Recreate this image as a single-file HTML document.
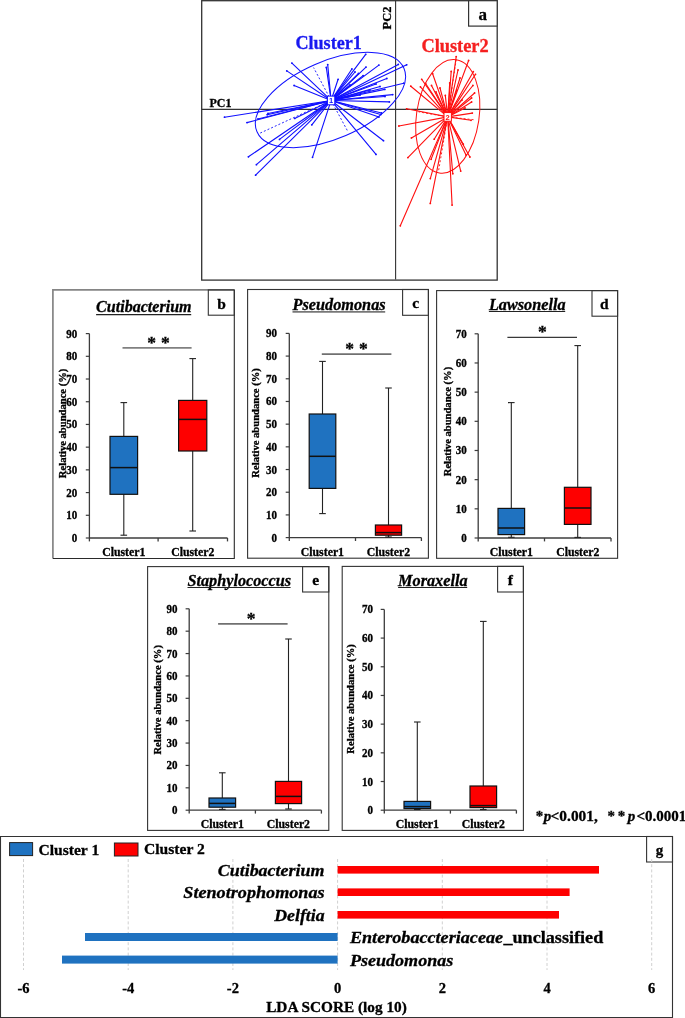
<!DOCTYPE html>
<html><head><meta charset="utf-8"><style>
html,body{margin:0;padding:0;background:#fff;width:685px;height:1018px;overflow:hidden}
svg{display:block;will-change:transform}
</style></head><body>
<svg width="685" height="1018" viewBox="0 0 685 1018">
<rect width="685" height="1018" fill="#fff"/>
<line x1="201.6" y1="109.4" x2="497.2" y2="109.4" stroke="#333" stroke-width="1.1"/>
<line x1="395.6" y1="0.5" x2="395.6" y2="279.6" stroke="#333" stroke-width="1.1"/>
<g stroke="#1010ff" stroke-width="1.12" fill="none" stroke-linecap="round">
<line x1="331.1" y1="100.45" x2="291.9" y2="63.1"/>
<line x1="331.1" y1="100.45" x2="286.8" y2="70.9"/>
<line x1="331.1" y1="100.45" x2="294.1" y2="85.5"/>
<line x1="331.1" y1="100.45" x2="327.7" y2="64.6"/>
<line x1="331.1" y1="100.45" x2="326.3" y2="67.4"/>
<line x1="331.1" y1="100.45" x2="365.7" y2="54.3"/>
<line x1="331.1" y1="100.45" x2="378.9" y2="65.1"/>
<line x1="331.1" y1="100.45" x2="366" y2="67.1"/>
<line x1="331.1" y1="100.45" x2="398.3" y2="64.4"/>
<line x1="331.1" y1="100.45" x2="406.7" y2="64.8"/>
<line x1="331.1" y1="100.45" x2="386.8" y2="78.5"/>
<line x1="331.1" y1="100.45" x2="403.8" y2="83.2"/>
<line x1="331.1" y1="100.45" x2="384.8" y2="89.4"/>
<line x1="331.1" y1="100.45" x2="392.7" y2="94.6"/>
<line x1="331.1" y1="100.45" x2="389.4" y2="101.9"/>
<line x1="331.1" y1="100.45" x2="351.9" y2="69"/>
<line x1="331.1" y1="100.45" x2="338.1" y2="79.3"/>
<line x1="331.1" y1="100.45" x2="363.1" y2="75.6"/>
<line x1="331.1" y1="100.45" x2="355" y2="72"/>
<line x1="331.1" y1="100.45" x2="358.5" y2="73.5"/>
<line x1="331.1" y1="100.45" x2="376" y2="84"/>
<line x1="331.1" y1="100.45" x2="380" y2="86.5"/>
<line x1="331.1" y1="100.45" x2="370" y2="90"/>
<line x1="331.1" y1="100.45" x2="385" y2="96.5"/>
<line x1="331.1" y1="100.45" x2="360" y2="95"/>
<line x1="331.1" y1="100.45" x2="350" y2="85"/>
<line x1="331.1" y1="100.45" x2="381.5" y2="113"/>
<line x1="331.1" y1="100.45" x2="378.9" y2="117"/>
<line x1="331.1" y1="100.45" x2="383.5" y2="140.7"/>
<line x1="331.1" y1="100.45" x2="376" y2="154.4"/>
<line x1="331.1" y1="100.45" x2="380.8" y2="114.5"/>
<line x1="331.1" y1="100.45" x2="224.5" y2="117.2"/>
<line x1="331.1" y1="100.45" x2="247" y2="122.6"/>
<line x1="331.1" y1="100.45" x2="267.2" y2="114.7"/>
<line x1="331.1" y1="100.45" x2="248.4" y2="156.8"/>
<line x1="331.1" y1="100.45" x2="256.4" y2="164.7"/>
<line x1="331.1" y1="100.45" x2="255.6" y2="175.2"/>
<line x1="331.1" y1="100.45" x2="279.5" y2="139.4"/>
<line x1="331.1" y1="100.45" x2="312.5" y2="157.3"/>
<line x1="331.1" y1="100.45" x2="311.8" y2="124.8"/>
<line x1="331.1" y1="100.45" x2="294.7" y2="118.4"/>
<line x1="331.1" y1="100.45" x2="268" y2="113.5"/>
<line x1="331.1" y1="100.45" x2="258" y2="119"/>
</g>
<g fill="#1010ff"><circle cx="291.9" cy="63.1" r="0.9"/><circle cx="286.8" cy="70.9" r="0.9"/><circle cx="294.1" cy="85.5" r="0.9"/><circle cx="327.7" cy="64.6" r="0.9"/><circle cx="326.3" cy="67.4" r="0.9"/><circle cx="365.7" cy="54.3" r="0.9"/><circle cx="378.9" cy="65.1" r="0.9"/><circle cx="366" cy="67.1" r="0.9"/><circle cx="398.3" cy="64.4" r="0.9"/><circle cx="406.7" cy="64.8" r="0.9"/><circle cx="386.8" cy="78.5" r="0.9"/><circle cx="403.8" cy="83.2" r="0.9"/><circle cx="384.8" cy="89.4" r="0.9"/><circle cx="392.7" cy="94.6" r="0.9"/><circle cx="389.4" cy="101.9" r="0.9"/><circle cx="351.9" cy="69" r="0.9"/><circle cx="338.1" cy="79.3" r="0.9"/><circle cx="363.1" cy="75.6" r="0.9"/><circle cx="355" cy="72" r="0.9"/><circle cx="358.5" cy="73.5" r="0.9"/><circle cx="376" cy="84" r="0.9"/><circle cx="380" cy="86.5" r="0.9"/><circle cx="370" cy="90" r="0.9"/><circle cx="385" cy="96.5" r="0.9"/><circle cx="360" cy="95" r="0.9"/><circle cx="350" cy="85" r="0.9"/><circle cx="381.5" cy="113" r="0.9"/><circle cx="378.9" cy="117" r="0.9"/><circle cx="383.5" cy="140.7" r="0.9"/><circle cx="376" cy="154.4" r="0.9"/><circle cx="380.8" cy="114.5" r="0.9"/><circle cx="224.5" cy="117.2" r="0.9"/><circle cx="247" cy="122.6" r="0.9"/><circle cx="267.2" cy="114.7" r="0.9"/><circle cx="248.4" cy="156.8" r="0.9"/><circle cx="256.4" cy="164.7" r="0.9"/><circle cx="255.6" cy="175.2" r="0.9"/><circle cx="279.5" cy="139.4" r="0.9"/><circle cx="312.5" cy="157.3" r="0.9"/><circle cx="311.8" cy="124.8" r="0.9"/><circle cx="294.7" cy="118.4" r="0.9"/><circle cx="268" cy="113.5" r="0.9"/><circle cx="258" cy="119" r="0.9"/></g>
<g stroke="#1010ff" stroke-width="0.9" fill="none" stroke-dasharray="2,2">
<line x1="331.1" y1="100.45" x2="313.6" y2="67.6"/>
<line x1="331.1" y1="100.45" x2="348" y2="131.8"/>
<line x1="331.1" y1="100.45" x2="259.7" y2="133.3"/>
</g>
<ellipse cx="330.47" cy="100.03" rx="80.04" ry="38.69" transform="rotate(-23.39 330.47 100.03)" fill="none" stroke="#1010ff" stroke-width="1"/>
<g stroke="#ff1010" stroke-width="1.12" fill="none" stroke-linecap="round">
<line x1="447.7" y1="116.9" x2="456.2" y2="56.6"/>
<line x1="447.7" y1="116.9" x2="468.6" y2="60.5"/>
<line x1="447.7" y1="116.9" x2="473.3" y2="71.7"/>
<line x1="447.7" y1="116.9" x2="475.5" y2="74.3"/>
<line x1="447.7" y1="116.9" x2="472.9" y2="85.5"/>
<line x1="447.7" y1="116.9" x2="474.6" y2="93"/>
<line x1="447.7" y1="116.9" x2="471.6" y2="98"/>
<line x1="447.7" y1="116.9" x2="471.6" y2="102"/>
<line x1="447.7" y1="116.9" x2="472.3" y2="113.1"/>
<line x1="447.7" y1="116.9" x2="451.2" y2="71.4"/>
<line x1="447.7" y1="116.9" x2="449.7" y2="82.9"/>
<line x1="447.7" y1="116.9" x2="456.8" y2="90.1"/>
<line x1="447.7" y1="116.9" x2="445.3" y2="95.4"/>
<line x1="447.7" y1="116.9" x2="432.6" y2="73.7"/>
<line x1="447.7" y1="116.9" x2="431.5" y2="85.5"/>
<line x1="447.7" y1="116.9" x2="425.6" y2="83.5"/>
<line x1="447.7" y1="116.9" x2="421.7" y2="79.3"/>
<line x1="447.7" y1="116.9" x2="420.4" y2="86.8"/>
<line x1="447.7" y1="116.9" x2="410.8" y2="86.2"/>
<line x1="447.7" y1="116.9" x2="406.6" y2="108.8"/>
<line x1="447.7" y1="116.9" x2="471" y2="120.3"/>
<line x1="447.7" y1="116.9" x2="465" y2="108"/>
<line x1="447.7" y1="116.9" x2="462" y2="100"/>
<line x1="447.7" y1="116.9" x2="460" y2="78"/>
<line x1="447.7" y1="116.9" x2="458" y2="70"/>
<line x1="447.7" y1="116.9" x2="440" y2="88"/>
<line x1="447.7" y1="116.9" x2="436" y2="92"/>
<line x1="447.7" y1="116.9" x2="398.9" y2="126"/>
<line x1="447.7" y1="116.9" x2="411.4" y2="137.9"/>
<line x1="447.7" y1="116.9" x2="407.9" y2="157.6"/>
<line x1="447.7" y1="116.9" x2="434.2" y2="139.2"/>
<line x1="447.7" y1="116.9" x2="431.1" y2="159.3"/>
<line x1="447.7" y1="116.9" x2="469.9" y2="157"/>
<line x1="447.7" y1="116.9" x2="460.7" y2="171.1"/>
<line x1="447.7" y1="116.9" x2="452.8" y2="173.7"/>
<line x1="447.7" y1="116.9" x2="400.3" y2="225.8"/>
<line x1="447.7" y1="116.9" x2="430.3" y2="203.4"/>
<line x1="447.7" y1="116.9" x2="452.1" y2="205.1"/>
<line x1="447.7" y1="116.9" x2="430.3" y2="178.6"/>
<line x1="447.7" y1="116.9" x2="463.3" y2="144.2"/>
<line x1="447.7" y1="116.9" x2="466" y2="155"/>
</g>
<g fill="#ff1010"><circle cx="456.2" cy="56.6" r="0.9"/><circle cx="468.6" cy="60.5" r="0.9"/><circle cx="473.3" cy="71.7" r="0.9"/><circle cx="475.5" cy="74.3" r="0.9"/><circle cx="472.9" cy="85.5" r="0.9"/><circle cx="474.6" cy="93" r="0.9"/><circle cx="471.6" cy="98" r="0.9"/><circle cx="471.6" cy="102" r="0.9"/><circle cx="472.3" cy="113.1" r="0.9"/><circle cx="451.2" cy="71.4" r="0.9"/><circle cx="449.7" cy="82.9" r="0.9"/><circle cx="456.8" cy="90.1" r="0.9"/><circle cx="445.3" cy="95.4" r="0.9"/><circle cx="432.6" cy="73.7" r="0.9"/><circle cx="431.5" cy="85.5" r="0.9"/><circle cx="425.6" cy="83.5" r="0.9"/><circle cx="421.7" cy="79.3" r="0.9"/><circle cx="420.4" cy="86.8" r="0.9"/><circle cx="410.8" cy="86.2" r="0.9"/><circle cx="406.6" cy="108.8" r="0.9"/><circle cx="471" cy="120.3" r="0.9"/><circle cx="465" cy="108" r="0.9"/><circle cx="462" cy="100" r="0.9"/><circle cx="460" cy="78" r="0.9"/><circle cx="458" cy="70" r="0.9"/><circle cx="440" cy="88" r="0.9"/><circle cx="436" cy="92" r="0.9"/><circle cx="398.9" cy="126" r="0.9"/><circle cx="411.4" cy="137.9" r="0.9"/><circle cx="407.9" cy="157.6" r="0.9"/><circle cx="434.2" cy="139.2" r="0.9"/><circle cx="431.1" cy="159.3" r="0.9"/><circle cx="469.9" cy="157" r="0.9"/><circle cx="460.7" cy="171.1" r="0.9"/><circle cx="452.8" cy="173.7" r="0.9"/><circle cx="400.3" cy="225.8" r="0.9"/><circle cx="430.3" cy="203.4" r="0.9"/><circle cx="452.1" cy="205.1" r="0.9"/><circle cx="430.3" cy="178.6" r="0.9"/><circle cx="463.3" cy="144.2" r="0.9"/><circle cx="466" cy="155" r="0.9"/></g>
<g stroke="#ff1010" stroke-width="0.9" fill="none" stroke-dasharray="2,2">
<line x1="447.7" y1="116.9" x2="456.5" y2="57.5"/>
<line x1="447.7" y1="116.9" x2="438.4" y2="171.8"/>
<line x1="447.7" y1="116.9" x2="418.5" y2="111.8"/>
<line x1="447.7" y1="116.9" x2="474.5" y2="119.8"/>
</g>
<ellipse cx="447.76" cy="116.34" rx="57.2" ry="31.3" transform="rotate(98.42 447.76 116.34)" fill="none" stroke="#ff1010" stroke-width="1"/>
<rect x="327.40" y="96.10" width="7.4" height="8.7" fill="#fff" stroke="#1010ff" stroke-width="1"/>
<text x="331.10" y="103.15" text-anchor="middle" style="font-family:'Liberation Sans',sans-serif;font-weight:bold;font-size:7.5px;fill:#1010ff">1</text>
<rect x="444.00" y="112.55" width="7.4" height="8.7" fill="#fff" stroke="#ff1010" stroke-width="1"/>
<text x="447.70" y="119.60" text-anchor="middle" style="font-family:'Liberation Sans',sans-serif;font-weight:bold;font-size:7.5px;fill:#ff1010">2</text>
<rect x="201.7" y="0.7" width="295.5" height="279.4" fill="none" stroke="#333" stroke-width="1.3"/>
<rect x="468.6" y="0.7" width="28.6" height="25.4" fill="#fff" stroke="#333" stroke-width="1.2"/>
<text x="482.8" y="19.8" text-anchor="middle" style="font-family:'Liberation Serif',serif;font-weight:bold;stroke:#000;stroke-width:0.3px;font-size:17px">a</text>
<text x="209.4" y="106.5" textLength="22" lengthAdjust="spacingAndGlyphs" style="font-family:'Liberation Serif',serif;font-weight:bold;stroke:#000;stroke-width:0.3px;font-size:12.5px">PC1</text>
<text transform="translate(391.2,18) rotate(-90)" text-anchor="middle" style="font-family:'Liberation Serif',serif;font-weight:bold;stroke:#000;stroke-width:0.3px;font-size:12.5px">PC2</text>
<text x="295.4" y="48.7" textLength="66.5" lengthAdjust="spacingAndGlyphs" style="font-family:'Liberation Serif',serif;font-weight:bold;stroke:#000;stroke-width:0.3px;font-size:18px;fill:#1818F0;stroke:#1818F0">Cluster1</text>
<text x="421.4" y="52.4" textLength="67.2" lengthAdjust="spacingAndGlyphs" style="font-family:'Liberation Serif',serif;font-weight:bold;stroke:#000;stroke-width:0.3px;font-size:18px;fill:#F52020;stroke:#F52020">Cluster2</text>
<path d="M52.9,558.5 V289.9 H234.3" fill="none" stroke="#858585" stroke-width="1.7"/>
<path d="M52.9,558.5 H234.3 V289.9" fill="none" stroke="#2a2a2a" stroke-width="1.1"/>
<rect x="208.3" y="289.9" width="26" height="25.3" fill="none" stroke="#333333" stroke-width="1.1"/>
<text x="221.5" y="308.5" text-anchor="middle" style="font-family:'Liberation Serif',serif;font-weight:bold;stroke:#000;stroke-width:0.3px;font-size:15.5px">b</text>
<text x="96.1" y="312.4" textLength="95.5" lengthAdjust="spacingAndGlyphs" style="font-family:'Liberation Serif',serif;font-weight:bold;stroke:#000;stroke-width:0.3px;font-style:italic;font-size:16px">Cutibacterium</text>
<line x1="96.1" y1="314.6" x2="191.2" y2="314.6" stroke="#222" stroke-width="1.1"/>
<line x1="89.4" y1="333.6" x2="89.4" y2="541.4" stroke="#3c3c3c" stroke-width="1.3"/>
<line x1="89.4" y1="538" x2="227.5" y2="538" stroke="#3c3c3c" stroke-width="1.3"/>
<line x1="158.1" y1="538" x2="158.1" y2="541.4" stroke="#3c3c3c" stroke-width="1.3"/>
<line x1="227.5" y1="538" x2="227.5" y2="541.4" stroke="#3c3c3c" stroke-width="1.3"/>
<line x1="85.8" y1="538" x2="89.4" y2="538" stroke="#3c3c3c" stroke-width="1.2"/>
<text transform="translate(77.3,542) scale(1,1.1)" text-anchor="end" style="font-family:'Liberation Serif',serif;font-weight:bold;stroke:#000;stroke-width:0.3px;font-size:11px">0</text>
<line x1="85.8" y1="515.29" x2="89.4" y2="515.29" stroke="#3c3c3c" stroke-width="1.2"/>
<text transform="translate(77.3,519.29) scale(1,1.1)" text-anchor="end" style="font-family:'Liberation Serif',serif;font-weight:bold;stroke:#000;stroke-width:0.3px;font-size:11px">10</text>
<line x1="85.8" y1="492.58" x2="89.4" y2="492.58" stroke="#3c3c3c" stroke-width="1.2"/>
<text transform="translate(77.3,496.58) scale(1,1.1)" text-anchor="end" style="font-family:'Liberation Serif',serif;font-weight:bold;stroke:#000;stroke-width:0.3px;font-size:11px">20</text>
<line x1="85.8" y1="469.87" x2="89.4" y2="469.87" stroke="#3c3c3c" stroke-width="1.2"/>
<text transform="translate(77.3,473.87) scale(1,1.1)" text-anchor="end" style="font-family:'Liberation Serif',serif;font-weight:bold;stroke:#000;stroke-width:0.3px;font-size:11px">30</text>
<line x1="85.8" y1="447.16" x2="89.4" y2="447.16" stroke="#3c3c3c" stroke-width="1.2"/>
<text transform="translate(77.3,451.16) scale(1,1.1)" text-anchor="end" style="font-family:'Liberation Serif',serif;font-weight:bold;stroke:#000;stroke-width:0.3px;font-size:11px">40</text>
<line x1="85.8" y1="424.44" x2="89.4" y2="424.44" stroke="#3c3c3c" stroke-width="1.2"/>
<text transform="translate(77.3,428.44) scale(1,1.1)" text-anchor="end" style="font-family:'Liberation Serif',serif;font-weight:bold;stroke:#000;stroke-width:0.3px;font-size:11px">50</text>
<line x1="85.8" y1="401.73" x2="89.4" y2="401.73" stroke="#3c3c3c" stroke-width="1.2"/>
<text transform="translate(77.3,405.73) scale(1,1.1)" text-anchor="end" style="font-family:'Liberation Serif',serif;font-weight:bold;stroke:#000;stroke-width:0.3px;font-size:11px">60</text>
<line x1="85.8" y1="379.02" x2="89.4" y2="379.02" stroke="#3c3c3c" stroke-width="1.2"/>
<text transform="translate(77.3,383.02) scale(1,1.1)" text-anchor="end" style="font-family:'Liberation Serif',serif;font-weight:bold;stroke:#000;stroke-width:0.3px;font-size:11px">70</text>
<line x1="85.8" y1="356.31" x2="89.4" y2="356.31" stroke="#3c3c3c" stroke-width="1.2"/>
<text transform="translate(77.3,360.31) scale(1,1.1)" text-anchor="end" style="font-family:'Liberation Serif',serif;font-weight:bold;stroke:#000;stroke-width:0.3px;font-size:11px">80</text>
<line x1="85.8" y1="333.6" x2="89.4" y2="333.6" stroke="#3c3c3c" stroke-width="1.2"/>
<text transform="translate(77.3,337.6) scale(1,1.1)" text-anchor="end" style="font-family:'Liberation Serif',serif;font-weight:bold;stroke:#000;stroke-width:0.3px;font-size:11px">90</text>
<text transform="translate(66.3,423.4) rotate(-90)" x="0" y="0" text-anchor="middle" style="font-family:'Liberation Serif',serif;font-weight:bold;stroke:#000;stroke-width:0.3px;font-size:10.6px">Relative abundance (%)</text>
<text x="123.75" y="555.7" text-anchor="middle" style="font-family:'Liberation Serif',serif;font-weight:bold;stroke:#000;stroke-width:0.3px;font-size:11.8px">Cluster1</text>
<text x="192.8" y="555.7" text-anchor="middle" style="font-family:'Liberation Serif',serif;font-weight:bold;stroke:#000;stroke-width:0.3px;font-size:11.8px">Cluster2</text>
<line x1="123.8" y1="402.6" x2="123.8" y2="535.2" stroke="#222" stroke-width="1.1"/>
<line x1="120.5" y1="402.6" x2="127.1" y2="402.6" stroke="#222" stroke-width="1.1"/>
<line x1="120.5" y1="535.2" x2="127.1" y2="535.2" stroke="#222" stroke-width="1.1"/>
<rect x="110" y="436.4" width="27.6" height="57.9" fill="#1F72C0" stroke="#111" stroke-width="1.2"/>
<line x1="110" y1="467.6" x2="137.6" y2="467.6" stroke="#111" stroke-width="1.5"/>
<line x1="192.7" y1="358.6" x2="192.7" y2="531" stroke="#222" stroke-width="1.1"/>
<line x1="189.4" y1="358.6" x2="196" y2="358.6" stroke="#222" stroke-width="1.1"/>
<line x1="189.4" y1="531" x2="196" y2="531" stroke="#222" stroke-width="1.1"/>
<rect x="178.6" y="400.4" width="28.2" height="50.6" fill="#FE0000" stroke="#111" stroke-width="1.2"/>
<line x1="178.6" y1="419.4" x2="206.8" y2="419.4" stroke="#111" stroke-width="1.5"/>
<line x1="122.5" y1="347.9" x2="191.6" y2="347.9" stroke="#808080" stroke-width="1.7"/>
<text x="151.6" y="347.9" text-anchor="middle" style="font-family:'Liberation Serif',serif;font-weight:bold;stroke:#000;stroke-width:0.3px;font-size:17.5px">*</text>
<text x="165.4" y="347.9" text-anchor="middle" style="font-family:'Liberation Serif',serif;font-weight:bold;stroke:#000;stroke-width:0.3px;font-size:17.5px">*</text>
<rect x="247.6" y="289.5" width="180.8" height="268.7" fill="none" stroke="#333333" stroke-width="1.1"/>
<rect x="402.6" y="289.5" width="25.8" height="25.8" fill="none" stroke="#333333" stroke-width="1.1"/>
<text x="415.6" y="308.1" text-anchor="middle" style="font-family:'Liberation Serif',serif;font-weight:bold;stroke:#000;stroke-width:0.3px;font-size:15.5px">c</text>
<text x="292.5" y="310" textLength="93.1" lengthAdjust="spacingAndGlyphs" style="font-family:'Liberation Serif',serif;font-weight:bold;stroke:#000;stroke-width:0.3px;font-style:italic;font-size:16px">Pseudomonas</text>
<line x1="292.5" y1="311.9" x2="385.2" y2="311.9" stroke="#777" stroke-width="1.6"/>
<line x1="289.3" y1="333.4" x2="289.3" y2="541" stroke="#3c3c3c" stroke-width="1.3"/>
<line x1="289.3" y1="537.6" x2="421.4" y2="537.6" stroke="#3c3c3c" stroke-width="1.3"/>
<line x1="355.5" y1="537.6" x2="355.5" y2="541" stroke="#3c3c3c" stroke-width="1.3"/>
<line x1="421.4" y1="537.6" x2="421.4" y2="541" stroke="#3c3c3c" stroke-width="1.3"/>
<line x1="285.7" y1="537.6" x2="289.3" y2="537.6" stroke="#3c3c3c" stroke-width="1.2"/>
<text transform="translate(277,541.6) scale(1,1.1)" text-anchor="end" style="font-family:'Liberation Serif',serif;font-weight:bold;stroke:#000;stroke-width:0.3px;font-size:11px">0</text>
<line x1="285.7" y1="514.91" x2="289.3" y2="514.91" stroke="#3c3c3c" stroke-width="1.2"/>
<text transform="translate(277,518.91) scale(1,1.1)" text-anchor="end" style="font-family:'Liberation Serif',serif;font-weight:bold;stroke:#000;stroke-width:0.3px;font-size:11px">10</text>
<line x1="285.7" y1="492.22" x2="289.3" y2="492.22" stroke="#3c3c3c" stroke-width="1.2"/>
<text transform="translate(277,496.22) scale(1,1.1)" text-anchor="end" style="font-family:'Liberation Serif',serif;font-weight:bold;stroke:#000;stroke-width:0.3px;font-size:11px">20</text>
<line x1="285.7" y1="469.53" x2="289.3" y2="469.53" stroke="#3c3c3c" stroke-width="1.2"/>
<text transform="translate(277,473.53) scale(1,1.1)" text-anchor="end" style="font-family:'Liberation Serif',serif;font-weight:bold;stroke:#000;stroke-width:0.3px;font-size:11px">30</text>
<line x1="285.7" y1="446.84" x2="289.3" y2="446.84" stroke="#3c3c3c" stroke-width="1.2"/>
<text transform="translate(277,450.84) scale(1,1.1)" text-anchor="end" style="font-family:'Liberation Serif',serif;font-weight:bold;stroke:#000;stroke-width:0.3px;font-size:11px">40</text>
<line x1="285.7" y1="424.16" x2="289.3" y2="424.16" stroke="#3c3c3c" stroke-width="1.2"/>
<text transform="translate(277,428.16) scale(1,1.1)" text-anchor="end" style="font-family:'Liberation Serif',serif;font-weight:bold;stroke:#000;stroke-width:0.3px;font-size:11px">50</text>
<line x1="285.7" y1="401.47" x2="289.3" y2="401.47" stroke="#3c3c3c" stroke-width="1.2"/>
<text transform="translate(277,405.47) scale(1,1.1)" text-anchor="end" style="font-family:'Liberation Serif',serif;font-weight:bold;stroke:#000;stroke-width:0.3px;font-size:11px">60</text>
<line x1="285.7" y1="378.78" x2="289.3" y2="378.78" stroke="#3c3c3c" stroke-width="1.2"/>
<text transform="translate(277,382.78) scale(1,1.1)" text-anchor="end" style="font-family:'Liberation Serif',serif;font-weight:bold;stroke:#000;stroke-width:0.3px;font-size:11px">70</text>
<line x1="285.7" y1="356.09" x2="289.3" y2="356.09" stroke="#3c3c3c" stroke-width="1.2"/>
<text transform="translate(277,360.09) scale(1,1.1)" text-anchor="end" style="font-family:'Liberation Serif',serif;font-weight:bold;stroke:#000;stroke-width:0.3px;font-size:11px">80</text>
<line x1="285.7" y1="333.4" x2="289.3" y2="333.4" stroke="#3c3c3c" stroke-width="1.2"/>
<text transform="translate(277,337.4) scale(1,1.1)" text-anchor="end" style="font-family:'Liberation Serif',serif;font-weight:bold;stroke:#000;stroke-width:0.3px;font-size:11px">90</text>
<text transform="translate(259,422.9) rotate(-90)" x="0" y="0" text-anchor="middle" style="font-family:'Liberation Serif',serif;font-weight:bold;stroke:#000;stroke-width:0.3px;font-size:10.6px">Relative abundance (%)</text>
<text x="322.4" y="555.7" text-anchor="middle" style="font-family:'Liberation Serif',serif;font-weight:bold;stroke:#000;stroke-width:0.3px;font-size:11.8px">Cluster1</text>
<text x="388.45" y="555.7" text-anchor="middle" style="font-family:'Liberation Serif',serif;font-weight:bold;stroke:#000;stroke-width:0.3px;font-size:11.8px">Cluster2</text>
<line x1="322.5" y1="361.4" x2="322.5" y2="513.6" stroke="#222" stroke-width="1.1"/>
<line x1="319.2" y1="361.4" x2="325.8" y2="361.4" stroke="#222" stroke-width="1.1"/>
<line x1="319.2" y1="513.6" x2="325.8" y2="513.6" stroke="#222" stroke-width="1.1"/>
<rect x="309.2" y="414" width="26.6" height="74.4" fill="#1F72C0" stroke="#111" stroke-width="1.2"/>
<line x1="309.2" y1="456.3" x2="335.8" y2="456.3" stroke="#111" stroke-width="1.5"/>
<line x1="388.5" y1="388" x2="388.5" y2="537" stroke="#222" stroke-width="1.1"/>
<line x1="385.2" y1="388" x2="391.8" y2="388" stroke="#222" stroke-width="1.1"/>
<line x1="385.2" y1="537" x2="391.8" y2="537" stroke="#222" stroke-width="1.1"/>
<rect x="375.4" y="525" width="26.2" height="10.2" fill="#FE0000" stroke="#111" stroke-width="1.2"/>
<line x1="375.4" y1="532.6" x2="401.6" y2="532.6" stroke="#111" stroke-width="1.5"/>
<line x1="321.8" y1="354.1" x2="391.4" y2="354.1" stroke="#707070" stroke-width="1.6"/>
<text x="349.6" y="354.1" text-anchor="middle" style="font-family:'Liberation Serif',serif;font-weight:bold;stroke:#000;stroke-width:0.3px;font-size:17.5px">*</text>
<text x="363.4" y="354.1" text-anchor="middle" style="font-family:'Liberation Serif',serif;font-weight:bold;stroke:#000;stroke-width:0.3px;font-size:17.5px">*</text>
<rect x="436.6" y="290.6" width="181" height="267.7" fill="none" stroke="#333333" stroke-width="1.1"/>
<rect x="592" y="290.6" width="25.6" height="25.6" fill="none" stroke="#333333" stroke-width="1.1"/>
<text x="604.4" y="309.2" text-anchor="middle" style="font-family:'Liberation Serif',serif;font-weight:bold;stroke:#000;stroke-width:0.3px;font-size:15.5px">d</text>
<text x="488.9" y="310" textLength="76.7" lengthAdjust="spacingAndGlyphs" style="font-family:'Liberation Serif',serif;font-weight:bold;stroke:#000;stroke-width:0.3px;font-style:italic;font-size:16px">Lawsonella</text>
<line x1="488.9" y1="311.5" x2="565.2" y2="311.5" stroke="#222" stroke-width="1.1"/>
<line x1="478.2" y1="333.8" x2="478.2" y2="541.4" stroke="#3c3c3c" stroke-width="1.3"/>
<line x1="478.2" y1="538" x2="611" y2="538" stroke="#3c3c3c" stroke-width="1.3"/>
<line x1="544.5" y1="538" x2="544.5" y2="541.4" stroke="#3c3c3c" stroke-width="1.3"/>
<line x1="611" y1="538" x2="611" y2="541.4" stroke="#3c3c3c" stroke-width="1.3"/>
<line x1="474.6" y1="538" x2="478.2" y2="538" stroke="#3c3c3c" stroke-width="1.2"/>
<text transform="translate(466.7,542) scale(1,1.1)" text-anchor="end" style="font-family:'Liberation Serif',serif;font-weight:bold;stroke:#000;stroke-width:0.3px;font-size:11px">0</text>
<line x1="474.6" y1="508.83" x2="478.2" y2="508.83" stroke="#3c3c3c" stroke-width="1.2"/>
<text transform="translate(466.7,512.83) scale(1,1.1)" text-anchor="end" style="font-family:'Liberation Serif',serif;font-weight:bold;stroke:#000;stroke-width:0.3px;font-size:11px">10</text>
<line x1="474.6" y1="479.66" x2="478.2" y2="479.66" stroke="#3c3c3c" stroke-width="1.2"/>
<text transform="translate(466.7,483.66) scale(1,1.1)" text-anchor="end" style="font-family:'Liberation Serif',serif;font-weight:bold;stroke:#000;stroke-width:0.3px;font-size:11px">20</text>
<line x1="474.6" y1="450.49" x2="478.2" y2="450.49" stroke="#3c3c3c" stroke-width="1.2"/>
<text transform="translate(466.7,454.49) scale(1,1.1)" text-anchor="end" style="font-family:'Liberation Serif',serif;font-weight:bold;stroke:#000;stroke-width:0.3px;font-size:11px">30</text>
<line x1="474.6" y1="421.31" x2="478.2" y2="421.31" stroke="#3c3c3c" stroke-width="1.2"/>
<text transform="translate(466.7,425.31) scale(1,1.1)" text-anchor="end" style="font-family:'Liberation Serif',serif;font-weight:bold;stroke:#000;stroke-width:0.3px;font-size:11px">40</text>
<line x1="474.6" y1="392.14" x2="478.2" y2="392.14" stroke="#3c3c3c" stroke-width="1.2"/>
<text transform="translate(466.7,396.14) scale(1,1.1)" text-anchor="end" style="font-family:'Liberation Serif',serif;font-weight:bold;stroke:#000;stroke-width:0.3px;font-size:11px">50</text>
<line x1="474.6" y1="362.97" x2="478.2" y2="362.97" stroke="#3c3c3c" stroke-width="1.2"/>
<text transform="translate(466.7,366.97) scale(1,1.1)" text-anchor="end" style="font-family:'Liberation Serif',serif;font-weight:bold;stroke:#000;stroke-width:0.3px;font-size:11px">60</text>
<line x1="474.6" y1="333.8" x2="478.2" y2="333.8" stroke="#3c3c3c" stroke-width="1.2"/>
<text transform="translate(466.7,337.8) scale(1,1.1)" text-anchor="end" style="font-family:'Liberation Serif',serif;font-weight:bold;stroke:#000;stroke-width:0.3px;font-size:11px">70</text>
<text transform="translate(451.1,421.5) rotate(-90)" x="0" y="0" text-anchor="middle" style="font-family:'Liberation Serif',serif;font-weight:bold;stroke:#000;stroke-width:0.3px;font-size:10.6px">Relative abundance (%)</text>
<text x="511.35" y="555.7" text-anchor="middle" style="font-family:'Liberation Serif',serif;font-weight:bold;stroke:#000;stroke-width:0.3px;font-size:11.8px">Cluster1</text>
<text x="577.75" y="555.7" text-anchor="middle" style="font-family:'Liberation Serif',serif;font-weight:bold;stroke:#000;stroke-width:0.3px;font-size:11.8px">Cluster2</text>
<line x1="511.3" y1="402.6" x2="511.3" y2="537.3" stroke="#222" stroke-width="1.1"/>
<line x1="508" y1="402.6" x2="514.6" y2="402.6" stroke="#222" stroke-width="1.1"/>
<line x1="508" y1="537.3" x2="514.6" y2="537.3" stroke="#222" stroke-width="1.1"/>
<rect x="498" y="508.4" width="26.6" height="26.2" fill="#1F72C0" stroke="#111" stroke-width="1.2"/>
<line x1="498" y1="528" x2="524.6" y2="528" stroke="#111" stroke-width="1.5"/>
<line x1="577.7" y1="345.6" x2="577.7" y2="537.4" stroke="#222" stroke-width="1.1"/>
<line x1="574.4" y1="345.6" x2="581" y2="345.6" stroke="#222" stroke-width="1.1"/>
<line x1="574.4" y1="537.4" x2="581" y2="537.4" stroke="#222" stroke-width="1.1"/>
<rect x="564.4" y="487.3" width="26.6" height="37.1" fill="#FE0000" stroke="#111" stroke-width="1.2"/>
<line x1="564.4" y1="508" x2="591" y2="508" stroke="#111" stroke-width="1.5"/>
<line x1="507.4" y1="337.4" x2="577" y2="337.4" stroke="#383838" stroke-width="1.15"/>
<text x="542.4" y="337.4" text-anchor="middle" style="font-family:'Liberation Serif',serif;font-weight:bold;stroke:#000;stroke-width:0.3px;font-size:17.5px">*</text>
<rect x="147.6" y="566.6" width="181.2" height="263.8" fill="none" stroke="#333333" stroke-width="1.1"/>
<rect x="302.6" y="566.6" width="26.2" height="25.4" fill="none" stroke="#333333" stroke-width="1.1"/>
<text x="315.6" y="585.2" text-anchor="middle" style="font-family:'Liberation Serif',serif;font-weight:bold;stroke:#000;stroke-width:0.3px;font-size:15.5px">e</text>
<text x="187.5" y="585.9" textLength="103.5" lengthAdjust="spacingAndGlyphs" style="font-family:'Liberation Serif',serif;font-weight:bold;stroke:#000;stroke-width:0.3px;font-style:italic;font-size:16px">Staphylococcus</text>
<line x1="187.5" y1="587.5" x2="290.6" y2="587.5" stroke="#222" stroke-width="1.1"/>
<line x1="189.2" y1="608.8" x2="189.2" y2="813.6" stroke="#3c3c3c" stroke-width="1.3"/>
<line x1="189.2" y1="810.2" x2="321.4" y2="810.2" stroke="#3c3c3c" stroke-width="1.3"/>
<line x1="255.4" y1="810.2" x2="255.4" y2="813.6" stroke="#3c3c3c" stroke-width="1.3"/>
<line x1="321.4" y1="810.2" x2="321.4" y2="813.6" stroke="#3c3c3c" stroke-width="1.3"/>
<line x1="185.6" y1="810.2" x2="189.2" y2="810.2" stroke="#3c3c3c" stroke-width="1.2"/>
<text transform="translate(177.5,814.2) scale(1,1.1)" text-anchor="end" style="font-family:'Liberation Serif',serif;font-weight:bold;stroke:#000;stroke-width:0.3px;font-size:11px">0</text>
<line x1="185.6" y1="787.82" x2="189.2" y2="787.82" stroke="#3c3c3c" stroke-width="1.2"/>
<text transform="translate(177.5,791.82) scale(1,1.1)" text-anchor="end" style="font-family:'Liberation Serif',serif;font-weight:bold;stroke:#000;stroke-width:0.3px;font-size:11px">10</text>
<line x1="185.6" y1="765.44" x2="189.2" y2="765.44" stroke="#3c3c3c" stroke-width="1.2"/>
<text transform="translate(177.5,769.44) scale(1,1.1)" text-anchor="end" style="font-family:'Liberation Serif',serif;font-weight:bold;stroke:#000;stroke-width:0.3px;font-size:11px">20</text>
<line x1="185.6" y1="743.07" x2="189.2" y2="743.07" stroke="#3c3c3c" stroke-width="1.2"/>
<text transform="translate(177.5,747.07) scale(1,1.1)" text-anchor="end" style="font-family:'Liberation Serif',serif;font-weight:bold;stroke:#000;stroke-width:0.3px;font-size:11px">30</text>
<line x1="185.6" y1="720.69" x2="189.2" y2="720.69" stroke="#3c3c3c" stroke-width="1.2"/>
<text transform="translate(177.5,724.69) scale(1,1.1)" text-anchor="end" style="font-family:'Liberation Serif',serif;font-weight:bold;stroke:#000;stroke-width:0.3px;font-size:11px">40</text>
<line x1="185.6" y1="698.31" x2="189.2" y2="698.31" stroke="#3c3c3c" stroke-width="1.2"/>
<text transform="translate(177.5,702.31) scale(1,1.1)" text-anchor="end" style="font-family:'Liberation Serif',serif;font-weight:bold;stroke:#000;stroke-width:0.3px;font-size:11px">50</text>
<line x1="185.6" y1="675.93" x2="189.2" y2="675.93" stroke="#3c3c3c" stroke-width="1.2"/>
<text transform="translate(177.5,679.93) scale(1,1.1)" text-anchor="end" style="font-family:'Liberation Serif',serif;font-weight:bold;stroke:#000;stroke-width:0.3px;font-size:11px">60</text>
<line x1="185.6" y1="653.56" x2="189.2" y2="653.56" stroke="#3c3c3c" stroke-width="1.2"/>
<text transform="translate(177.5,657.56) scale(1,1.1)" text-anchor="end" style="font-family:'Liberation Serif',serif;font-weight:bold;stroke:#000;stroke-width:0.3px;font-size:11px">70</text>
<line x1="185.6" y1="631.18" x2="189.2" y2="631.18" stroke="#3c3c3c" stroke-width="1.2"/>
<text transform="translate(177.5,635.18) scale(1,1.1)" text-anchor="end" style="font-family:'Liberation Serif',serif;font-weight:bold;stroke:#000;stroke-width:0.3px;font-size:11px">80</text>
<line x1="185.6" y1="608.8" x2="189.2" y2="608.8" stroke="#3c3c3c" stroke-width="1.2"/>
<text transform="translate(177.5,612.8) scale(1,1.1)" text-anchor="end" style="font-family:'Liberation Serif',serif;font-weight:bold;stroke:#000;stroke-width:0.3px;font-size:11px">90</text>
<text transform="translate(160.5,699.8) rotate(-90)" x="0" y="0" text-anchor="middle" style="font-family:'Liberation Serif',serif;font-weight:bold;stroke:#000;stroke-width:0.3px;font-size:10.6px">Relative abundance (%)</text>
<text x="222.3" y="828" text-anchor="middle" style="font-family:'Liberation Serif',serif;font-weight:bold;stroke:#000;stroke-width:0.3px;font-size:11.8px">Cluster1</text>
<text x="288.4" y="828" text-anchor="middle" style="font-family:'Liberation Serif',serif;font-weight:bold;stroke:#000;stroke-width:0.3px;font-size:11.8px">Cluster2</text>
<line x1="222.3" y1="772.8" x2="222.3" y2="809.4" stroke="#222" stroke-width="1.1"/>
<line x1="219" y1="772.8" x2="225.6" y2="772.8" stroke="#222" stroke-width="1.1"/>
<line x1="219" y1="809.4" x2="225.6" y2="809.4" stroke="#222" stroke-width="1.1"/>
<rect x="209" y="798" width="26.6" height="9.2" fill="#1F72C0" stroke="#111" stroke-width="1.2"/>
<line x1="209" y1="803.4" x2="235.6" y2="803.4" stroke="#111" stroke-width="1.5"/>
<line x1="288.5" y1="639" x2="288.5" y2="809" stroke="#222" stroke-width="1.1"/>
<line x1="285.2" y1="639" x2="291.8" y2="639" stroke="#222" stroke-width="1.1"/>
<line x1="285.2" y1="809" x2="291.8" y2="809" stroke="#222" stroke-width="1.1"/>
<rect x="275.4" y="781.4" width="26.2" height="22.2" fill="#FE0000" stroke="#111" stroke-width="1.2"/>
<line x1="275.4" y1="796.4" x2="301.6" y2="796.4" stroke="#111" stroke-width="1.5"/>
<line x1="218.1" y1="623.9" x2="287.6" y2="623.9" stroke="#707070" stroke-width="1.6"/>
<text x="251" y="623.9" text-anchor="middle" style="font-family:'Liberation Serif',serif;font-weight:bold;stroke:#000;stroke-width:0.3px;font-size:17.5px">*</text>
<rect x="342.2" y="566.4" width="181.2" height="264" fill="none" stroke="#333333" stroke-width="1.1"/>
<rect x="497.6" y="566.4" width="25.8" height="25.6" fill="none" stroke="#333333" stroke-width="1.1"/>
<text x="510.4" y="585" text-anchor="middle" style="font-family:'Liberation Serif',serif;font-weight:bold;stroke:#000;stroke-width:0.3px;font-size:15.5px">f</text>
<text x="398.1" y="585.9" textLength="69.5" lengthAdjust="spacingAndGlyphs" style="font-family:'Liberation Serif',serif;font-weight:bold;stroke:#000;stroke-width:0.3px;font-style:italic;font-size:16px">Moraxella</text>
<line x1="398.1" y1="587.5" x2="467.2" y2="587.5" stroke="#222" stroke-width="1.1"/>
<line x1="384.3" y1="609.4" x2="384.3" y2="813.6" stroke="#3c3c3c" stroke-width="1.3"/>
<line x1="384.3" y1="810.2" x2="516.4" y2="810.2" stroke="#3c3c3c" stroke-width="1.3"/>
<line x1="450.4" y1="810.2" x2="450.4" y2="813.6" stroke="#3c3c3c" stroke-width="1.3"/>
<line x1="516.4" y1="810.2" x2="516.4" y2="813.6" stroke="#3c3c3c" stroke-width="1.3"/>
<line x1="380.7" y1="810.2" x2="384.3" y2="810.2" stroke="#3c3c3c" stroke-width="1.2"/>
<text transform="translate(373,814.2) scale(1,1.1)" text-anchor="end" style="font-family:'Liberation Serif',serif;font-weight:bold;stroke:#000;stroke-width:0.3px;font-size:11px">0</text>
<line x1="380.7" y1="781.51" x2="384.3" y2="781.51" stroke="#3c3c3c" stroke-width="1.2"/>
<text transform="translate(373,785.51) scale(1,1.1)" text-anchor="end" style="font-family:'Liberation Serif',serif;font-weight:bold;stroke:#000;stroke-width:0.3px;font-size:11px">10</text>
<line x1="380.7" y1="752.83" x2="384.3" y2="752.83" stroke="#3c3c3c" stroke-width="1.2"/>
<text transform="translate(373,756.83) scale(1,1.1)" text-anchor="end" style="font-family:'Liberation Serif',serif;font-weight:bold;stroke:#000;stroke-width:0.3px;font-size:11px">20</text>
<line x1="380.7" y1="724.14" x2="384.3" y2="724.14" stroke="#3c3c3c" stroke-width="1.2"/>
<text transform="translate(373,728.14) scale(1,1.1)" text-anchor="end" style="font-family:'Liberation Serif',serif;font-weight:bold;stroke:#000;stroke-width:0.3px;font-size:11px">30</text>
<line x1="380.7" y1="695.46" x2="384.3" y2="695.46" stroke="#3c3c3c" stroke-width="1.2"/>
<text transform="translate(373,699.46) scale(1,1.1)" text-anchor="end" style="font-family:'Liberation Serif',serif;font-weight:bold;stroke:#000;stroke-width:0.3px;font-size:11px">40</text>
<line x1="380.7" y1="666.77" x2="384.3" y2="666.77" stroke="#3c3c3c" stroke-width="1.2"/>
<text transform="translate(373,670.77) scale(1,1.1)" text-anchor="end" style="font-family:'Liberation Serif',serif;font-weight:bold;stroke:#000;stroke-width:0.3px;font-size:11px">50</text>
<line x1="380.7" y1="638.09" x2="384.3" y2="638.09" stroke="#3c3c3c" stroke-width="1.2"/>
<text transform="translate(373,642.09) scale(1,1.1)" text-anchor="end" style="font-family:'Liberation Serif',serif;font-weight:bold;stroke:#000;stroke-width:0.3px;font-size:11px">60</text>
<line x1="380.7" y1="609.4" x2="384.3" y2="609.4" stroke="#3c3c3c" stroke-width="1.2"/>
<text transform="translate(373,613.4) scale(1,1.1)" text-anchor="end" style="font-family:'Liberation Serif',serif;font-weight:bold;stroke:#000;stroke-width:0.3px;font-size:11px">70</text>
<text transform="translate(353.7,698.9) rotate(-90)" x="0" y="0" text-anchor="middle" style="font-family:'Liberation Serif',serif;font-weight:bold;stroke:#000;stroke-width:0.3px;font-size:10.6px">Relative abundance (%)</text>
<text x="417.35" y="828" text-anchor="middle" style="font-family:'Liberation Serif',serif;font-weight:bold;stroke:#000;stroke-width:0.3px;font-size:11.8px">Cluster1</text>
<text x="483.4" y="828" text-anchor="middle" style="font-family:'Liberation Serif',serif;font-weight:bold;stroke:#000;stroke-width:0.3px;font-size:11.8px">Cluster2</text>
<line x1="417.3" y1="722" x2="417.3" y2="809.5" stroke="#222" stroke-width="1.1"/>
<line x1="414" y1="722" x2="420.6" y2="722" stroke="#222" stroke-width="1.1"/>
<line x1="414" y1="809.5" x2="420.6" y2="809.5" stroke="#222" stroke-width="1.1"/>
<rect x="404" y="801.4" width="26.6" height="7.2" fill="#1F72C0" stroke="#111" stroke-width="1.2"/>
<line x1="404" y1="806.6" x2="430.6" y2="806.6" stroke="#111" stroke-width="1.5"/>
<line x1="483.3" y1="621.4" x2="483.3" y2="809.5" stroke="#222" stroke-width="1.1"/>
<line x1="480" y1="621.4" x2="486.6" y2="621.4" stroke="#222" stroke-width="1.1"/>
<line x1="480" y1="809.5" x2="486.6" y2="809.5" stroke="#222" stroke-width="1.1"/>
<rect x="470" y="786" width="26.6" height="21.6" fill="#FE0000" stroke="#111" stroke-width="1.2"/>
<line x1="470" y1="805.6" x2="496.6" y2="805.6" stroke="#111" stroke-width="1.5"/>
<path d="M0.5,836.5 H672.5 V1017.5 H0.5 Z" fill="none" stroke="#333" stroke-width="1.1"/>
<rect x="646.6" y="836.5" width="25.9" height="25.5" fill="none" stroke="#333" stroke-width="1.1"/>
<text x="659.6" y="855" text-anchor="middle" style="font-family:'Liberation Serif',serif;font-weight:bold;stroke:#000;stroke-width:0.3px;font-size:15px">g</text>
<line x1="23.5" y1="859" x2="23.5" y2="970" stroke="#d0d0d0" stroke-width="1" stroke-dasharray="3,2.2"/>
<text x="23.5" y="993" text-anchor="middle" style="font-family:'Liberation Serif',serif;font-weight:bold;stroke:#000;stroke-width:0.3px;font-size:14.5px">-6</text>
<line x1="128.2" y1="859" x2="128.2" y2="970" stroke="#d0d0d0" stroke-width="1" stroke-dasharray="3,2.2"/>
<text x="128.2" y="993" text-anchor="middle" style="font-family:'Liberation Serif',serif;font-weight:bold;stroke:#000;stroke-width:0.3px;font-size:14.5px">-4</text>
<line x1="232.9" y1="859" x2="232.9" y2="970" stroke="#d0d0d0" stroke-width="1" stroke-dasharray="3,2.2"/>
<text x="232.9" y="993" text-anchor="middle" style="font-family:'Liberation Serif',serif;font-weight:bold;stroke:#000;stroke-width:0.3px;font-size:14.5px">-2</text>
<line x1="337.6" y1="859" x2="337.6" y2="970" stroke="#d0d0d0" stroke-width="1" stroke-dasharray="3,2.2"/>
<text x="337.6" y="993" text-anchor="middle" style="font-family:'Liberation Serif',serif;font-weight:bold;stroke:#000;stroke-width:0.3px;font-size:14.5px">0</text>
<line x1="442.3" y1="859" x2="442.3" y2="970" stroke="#d0d0d0" stroke-width="1" stroke-dasharray="3,2.2"/>
<text x="442.3" y="993" text-anchor="middle" style="font-family:'Liberation Serif',serif;font-weight:bold;stroke:#000;stroke-width:0.3px;font-size:14.5px">2</text>
<line x1="547" y1="859" x2="547" y2="970" stroke="#d0d0d0" stroke-width="1" stroke-dasharray="3,2.2"/>
<text x="547" y="993" text-anchor="middle" style="font-family:'Liberation Serif',serif;font-weight:bold;stroke:#000;stroke-width:0.3px;font-size:14.5px">4</text>
<line x1="651.7" y1="859" x2="651.7" y2="970" stroke="#d0d0d0" stroke-width="1" stroke-dasharray="3,2.2"/>
<text x="651.7" y="993" text-anchor="middle" style="font-family:'Liberation Serif',serif;font-weight:bold;stroke:#000;stroke-width:0.3px;font-size:14.5px">6</text>
<rect x="337.6" y="866" width="261.4" height="7.6" fill="#FE0000"/>
<rect x="337.6" y="888.4" width="232" height="7.6" fill="#FE0000"/>
<rect x="337.6" y="911" width="221.4" height="7.6" fill="#FE0000"/>
<rect x="85" y="933" width="252.6" height="8" fill="#1F72C0"/>
<rect x="62" y="955.6" width="275.6" height="8" fill="#1F72C0"/>
<text x="217.7" y="876" textLength="106.8" lengthAdjust="spacingAndGlyphs" style="font-family:'Liberation Serif',serif;font-weight:bold;stroke:#000;stroke-width:0.3px;font-style:italic;font-size:17.6px">Cutibacterium</text>
<text x="183.3" y="898.4" textLength="141.3" lengthAdjust="spacingAndGlyphs" style="font-family:'Liberation Serif',serif;font-weight:bold;stroke:#000;stroke-width:0.3px;font-style:italic;font-size:17.6px">Stenotrophomonas</text>
<text x="274.2" y="921" textLength="50.5" lengthAdjust="spacingAndGlyphs" style="font-family:'Liberation Serif',serif;font-weight:bold;stroke:#000;stroke-width:0.3px;font-style:italic;font-size:17.6px">Delftia</text>
<text x="349.9" y="943" textLength="153.2" lengthAdjust="spacingAndGlyphs" style="font-family:'Liberation Serif',serif;font-weight:bold;stroke:#000;stroke-width:0.3px;font-style:italic;font-size:17.6px">Enterobaccteriaceae</text>
<text x="503.4" y="943" textLength="99.9" lengthAdjust="spacingAndGlyphs" style="font-family:'Liberation Serif',serif;font-weight:bold;stroke:#000;stroke-width:0.3px;font-size:17.6px">_unclassified</text>
<text x="349.9" y="965.5" textLength="103.4" lengthAdjust="spacingAndGlyphs" style="font-family:'Liberation Serif',serif;font-weight:bold;stroke:#000;stroke-width:0.3px;font-style:italic;font-size:17.6px">Pseudomonas</text>
<text x="336.5" y="1011.8" text-anchor="middle" style="font-family:'Liberation Serif',serif;font-weight:bold;stroke:#000;stroke-width:0.3px;font-size:15.3px">LDA SCORE (log 10)</text>
<rect x="9.6" y="842.6" width="23" height="13" fill="#1F72C0" stroke="#222" stroke-width="1"/>
<text x="38.4" y="854.6" style="font-family:'Liberation Serif',serif;font-weight:bold;stroke:#000;stroke-width:0.3px;font-size:15.6px">Cluster 1</text>
<rect x="114.4" y="843" width="23.6" height="13" fill="#FE0000" stroke="#222" stroke-width="1"/>
<text x="144" y="854.4" style="font-family:'Liberation Serif',serif;font-weight:bold;stroke:#000;stroke-width:0.3px;font-size:15.6px">Cluster 2</text>
<text x="535.8" y="821.2" style="font-family:'Liberation Serif',serif;font-weight:bold;stroke:#000;stroke-width:0.3px;font-size:15px">*</text>
<text x="543.7" y="821.2" style="font-family:'Liberation Serif',serif;font-weight:bold;stroke:#000;stroke-width:0.3px;font-size:15px;font-style:italic">p</text>
<text x="550.6" y="821.2" textLength="47.2" lengthAdjust="spacingAndGlyphs" style="font-family:'Liberation Serif',serif;font-weight:bold;stroke:#000;stroke-width:0.3px;font-size:15px">&lt;0.001,</text>
<text x="607.6" y="821.2" style="font-family:'Liberation Serif',serif;font-weight:bold;stroke:#000;stroke-width:0.3px;font-size:15px">*</text>
<text x="617.7" y="821.2" style="font-family:'Liberation Serif',serif;font-weight:bold;stroke:#000;stroke-width:0.3px;font-size:15px">*</text>
<text x="627.8" y="821.2" style="font-family:'Liberation Serif',serif;font-weight:bold;stroke:#000;stroke-width:0.3px;font-size:15px;font-style:italic">p</text>
<text x="636.4" y="821.2" style="font-family:'Liberation Serif',serif;font-weight:bold;stroke:#000;stroke-width:0.3px;font-size:15px">&lt;0.0001</text>
</svg>
</body></html>
